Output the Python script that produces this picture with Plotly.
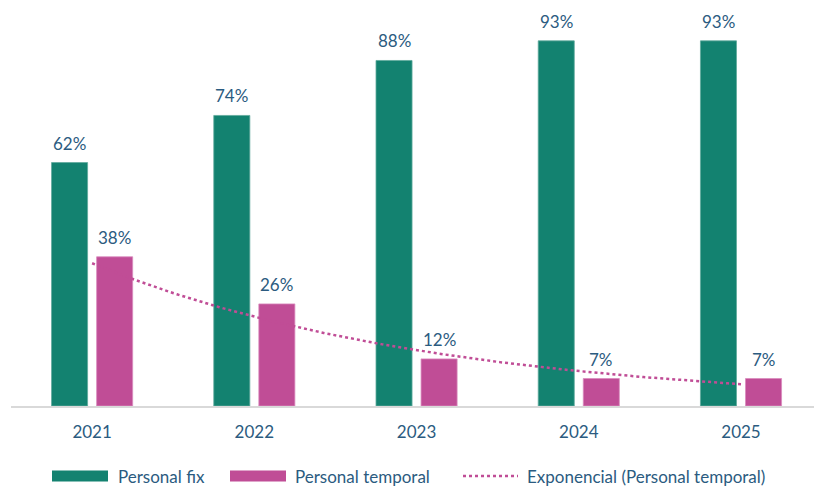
import numpy as np
import plotly.graph_objects as go

years = ["2021", "2022", "2023", "2024", "2025"]
personal_fix = [62, 74, 88, 93, 93]
personal_temporal = [38, 26, 12, 7, 7]
series_names = ["Personal fix", "Personal temporal", "Exponencial (Personal temporal)"]

TEAL = "#138270"
MAGENTA = "#C04D96"
TEXT = "#2B5B80"
FONT = "Lato"
FS = 17

# plot area in pixels (used for the hand-placed legend)
W, H = 814, 486
L, B = 11, 80
PW, PH = W - L, H - B


def px_x(px):
    return (px - L) / PW


def px_y(py):
    return (PH - py) / PH


x = np.arange(len(years))
bar_w = 36 / 162

fig = go.Figure()
fig.add_trace(go.Bar(
    x=x, y=personal_fix, name=series_names[0],
    width=bar_w, offset=-0.25,
    marker=dict(color=TEAL, line=dict(color="#5FA99C", width=0.8)),
))
fig.add_trace(go.Bar(
    x=x, y=personal_temporal, name=series_names[1],
    width=bar_w, offset=0.25 - bar_w,
    marker=dict(color=MAGENTA, line=dict(color="#D98BBE", width=0.8)),
))

# Exponential trendline fitted to the temporary-staff series
k = np.arange(1, len(years) + 1)
b, a = np.polyfit(k, np.log(personal_temporal), 1)
xs = np.linspace(0, len(years) - 1, 200)
ys = np.exp(a + b * (xs + 1))
fig.add_trace(go.Scatter(
    x=xs, y=ys, mode="lines", name=series_names[2],
    line=dict(color=MAGENTA, width=2.5, dash="dot"),
))

# Value labels above each bar
centre = 0.25 - bar_w / 2
for i in range(len(years)):
    for val, dx in ((personal_fix[i], -centre), (personal_temporal[i], centre)):
        fig.add_annotation(
            x=i + dx, y=val, text=f"{val}%", showarrow=False,
            yanchor="bottom", yshift=7,
            font=dict(family=FONT, size=FS, color=TEXT),
        )

# Legend drawn with wide swatches
legend_y = 476
swatches = [(52, 108, TEAL, "rect"), (230, 286, MAGENTA, "rect"), (463, 518, MAGENTA, "dot")]
text_x = [116, 293, 525]
for (x0, x1, col, kind), tx, name in zip(swatches, text_x, series_names):
    if kind == "rect":
        fig.add_shape(
            type="rect", xref="paper", yref="paper",
            x0=px_x(x0), x1=px_x(x1), y0=px_y(legend_y + 5.5), y1=px_y(legend_y - 5.5),
            fillcolor=col, line=dict(width=0),
        )
    else:
        fig.add_shape(
            type="line", xref="paper", yref="paper",
            x0=px_x(x0), x1=px_x(x1), y0=px_y(legend_y), y1=px_y(legend_y),
            line=dict(color=col, width=2.5, dash="dot"),
        )
    fig.add_annotation(
        x=px_x(tx), y=px_y(legend_y), xref="paper", yref="paper",
        text=name, showarrow=False, xanchor="left", yanchor="middle",
        font=dict(family=FONT, size=FS, color=TEXT),
    )

fig.update_layout(
    width=W, height=H,
    margin=dict(l=L, r=0, t=0, b=B),
    paper_bgcolor="white", plot_bgcolor="white",
    barmode="overlay",
    font=dict(family=FONT, size=FS, color=TEXT),
    showlegend=False,
    xaxis=dict(
        range=[-0.5, 4.45], tickvals=list(x), ticktext=years,
        showgrid=False, zeroline=False,
        showline=True, linecolor="#D9D9D9", linewidth=1.5,
        ticks="outside", ticklen=10, tickcolor="rgba(0,0,0,0)",
        tickfont=dict(family=FONT, size=FS, color=TEXT),
    ),
    yaxis=dict(
        range=[0, 103.4], visible=False, showgrid=False, zeroline=False,
    ),
)

fig.write_html("out.html")
